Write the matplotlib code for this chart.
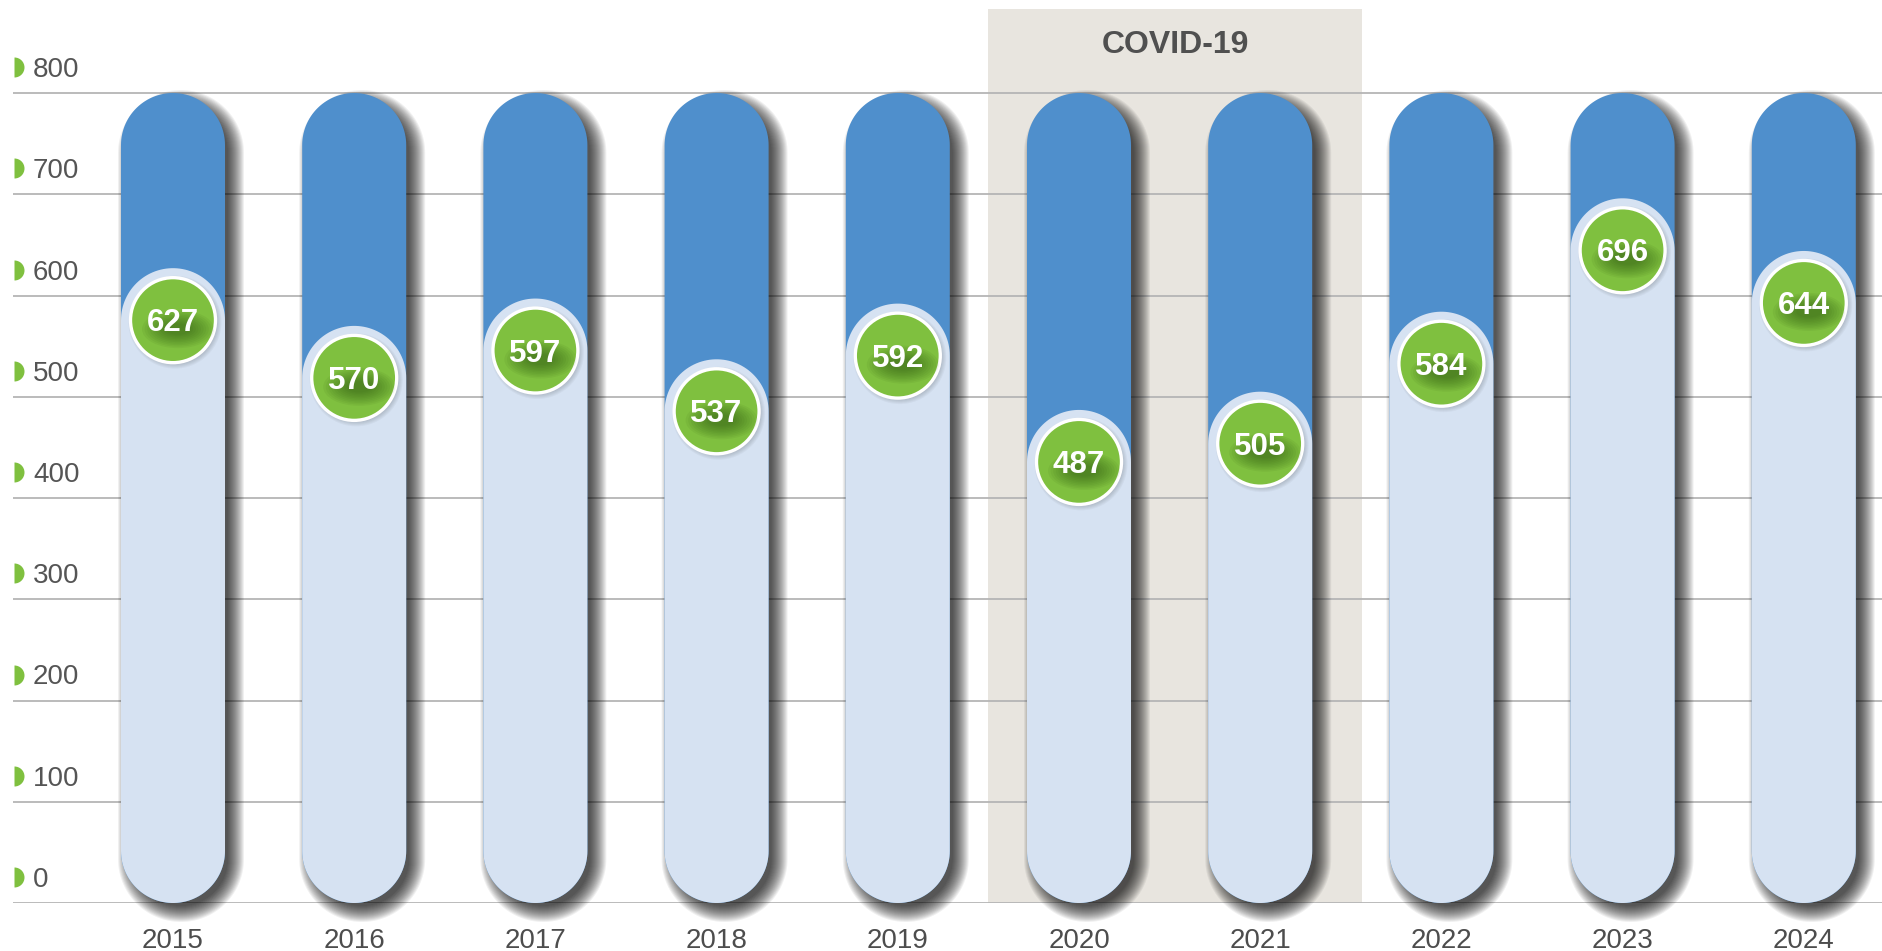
import matplotlib
matplotlib.use("Agg")
import numpy as np
import matplotlib.pyplot as plt
from matplotlib.patches import Polygon, Ellipse, Rectangle
from matplotlib import patheffects as pe

# ---- data ----
years = ["2015", "2016", "2017", "2018", "2019", "2020", "2021", "2022", "2023", "2024"]
values = [627, 570, 597, 537, 592, 487, 505, 584, 696, 644]
y_max = 800
y_ticks = [0, 100, 200, 300, 400, 500, 600, 700, 800]
band_label = "COVID-19"
band_years = ["2020", "2021"]

# ---- style ----
BLUE = "#4f8fcc"
LIGHT = "#d6e2f2"
GREEN = "#7fc03f"
BAND = "#e8e5df"
GRID = "#b5b5b5"
TXT = "#4d4d4d"
FONT = "Liberation Sans"

W, H, DPI = 1882, 951, 100
fig = plt.figure(figsize=(W / DPI, H / DPI), dpi=DPI)
fig.patch.set_facecolor("white")

# geometry in pixels
x0_px = 173.0      # centre of first bar
step_px = 181.2    # bar spacing
axis_px = 903.0    # pixel row of y=0 (from top)
ppu_y = 810.0 / 800.0  # pixels per y unit
bar_w_px = 104.0
circ_d_px = 85.0

ax = fig.add_axes([0, (H - axis_px) / H, 1, axis_px / H])
ax.set_xlim(-x0_px / step_px, (W - x0_px) / step_px)
ax.set_ylim(0, axis_px / ppu_y)
ax.axis("off")

sx = step_px   # px per x unit
sy = ppu_y     # px per y unit

def pill(xc, y0, height, w_px, grow_px=0, off=(0, 0), **kw):
    r_px = w_px / 2 + grow_px
    rx = r_px / sx
    ry = r_px / sy
    cx = xc + off[0] / sx
    bot = y0 - grow_px / sy - off[1] / sy
    top = y0 + height + grow_px / sy - off[1] / sy
    t1 = np.linspace(0, np.pi, 60)
    t2 = np.linspace(np.pi, 2 * np.pi, 60)
    xs = np.concatenate([cx + rx * np.cos(t1), cx + rx * np.cos(t2)])
    ys = np.concatenate([top - ry + ry * np.sin(t1), bot + ry + ry * np.sin(t2)])
    p = Polygon(np.column_stack([xs, ys]), closed=True, linewidth=0,
                clip_on=False, **kw)
    ax.add_patch(p)
    return p

# covid band
i0 = years.index(band_years[0])
i1 = years.index(band_years[1])
band_left = i0 - 0.5
band_right = i1 + 102 / sx
band_top = (axis_px - 9) / sy
ax.add_patch(Rectangle((band_left, 0), band_right - band_left, band_top,
                       facecolor=BAND, edgecolor="none", zorder=0))
ax.text((band_left + band_right) / 2, (axis_px - 53) / sy, band_label,
        ha="center", va="baseline", fontsize=23, fontweight="bold",
        color="#505050", family=FONT, zorder=1)

# gridlines
xl = ax.get_xlim()
ax.hlines(y_ticks, (13 - x0_px) / sx, xl[1], colors=GRID, linewidth=1.3, zorder=1)

# y labels with green half-circle markers
for v in y_ticks:
    ax.text((33 - x0_px) / sx, v + 16 / sy, str(v), ha="left", va="baseline",
            fontsize=20, color="#555555", family=FONT, zorder=3)
    ax.plot([(14 - x0_px) / sx], [v + 26 / sy], marker="o", markersize=14.4,
            fillstyle="right", markerfacecolor=GREEN, markerfacecoloralt="none",
            markeredgewidth=0, linestyle="none", zorder=3, clip_on=False)

# bars
r_y = (bar_w_px / 2) / sy
for i, (yr, v) in enumerate(zip(years, values)):
    # soft drop shadow
    for d in range(-5, 12):
        pill(i, 0, y_max, bar_w_px, grow_px=d, off=(8, 8),
             facecolor="black", alpha=0.06, zorder=2)
    pill(i, 0, y_max, bar_w_px, facecolor=BLUE, zorder=3)
    pill(i, 0, v, bar_w_px, facecolor=LIGHT, zorder=4)
    cy = v - r_y
    # circle shadow
    for d in range(0, 5):
        ax.add_patch(Ellipse((i + 2 / sx, cy - 2 / sy), (circ_d_px + 2 * d) / sx,
                             (circ_d_px + 2 * d) / sy, facecolor="black",
                             alpha=0.03, linewidth=0, zorder=5))
    ax.add_patch(Ellipse((i, cy), circ_d_px / sx, circ_d_px / sy,
                         facecolor=GREEN, edgecolor="white", linewidth=2.4,
                         zorder=6))
    # soft dark glow beneath the number
    for k in range(10):
        f = 1 - k / 10
        ax.add_patch(Ellipse((i + 5 / sx, cy - 9 / sy), (20 + 52 * f) / sx,
                             (8 + 30 * f) / sy, facecolor="#2c5510",
                             alpha=0.07, linewidth=0, zorder=6.5))
    ax.text(i, cy - 11 / sy, str(v), ha="center", va="baseline", fontsize=22.5,
            fontweight="bold", color="white", family=FONT, zorder=7)
    # year label
    ax.text(i, -45 / sy, yr, ha="center", va="baseline", fontsize=20,
            color=TXT, family=FONT, clip_on=False, zorder=3)

fig.savefig("out.png", dpi=DPI, facecolor="white")
